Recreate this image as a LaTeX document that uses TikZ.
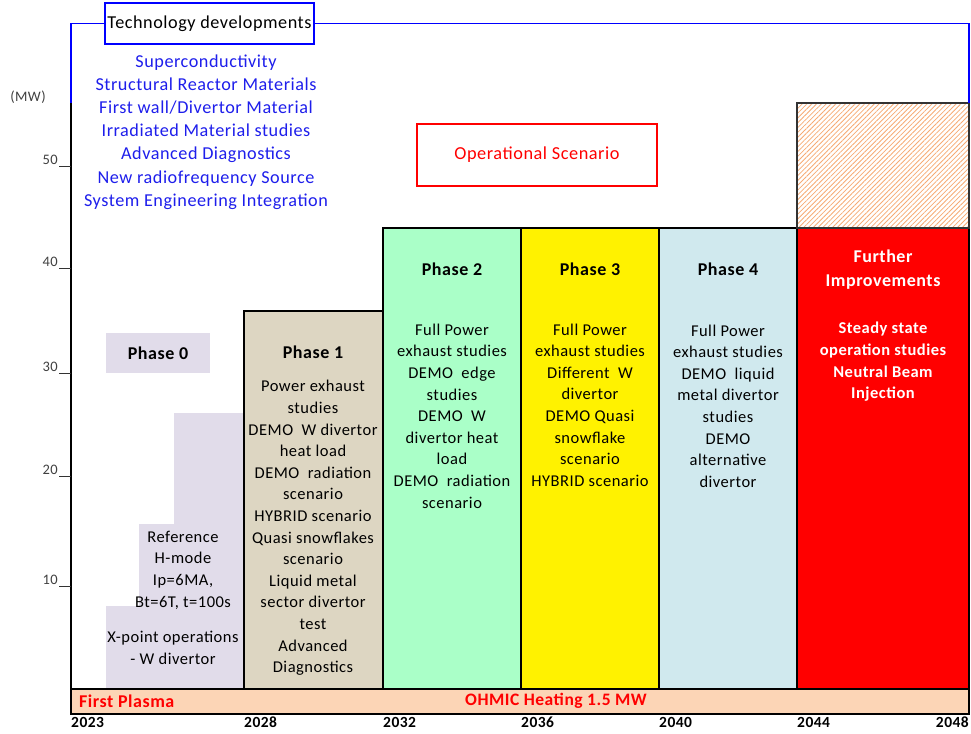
\documentclass[tikz,border=0pt]{standalone}
\usepackage{fontspec}
\setmainfont{Carlito}[LetterSpace=3]
\usetikzlibrary{patterns.meta}
\definecolor{lav}{RGB}{225,220,234}
\definecolor{beige}{RGB}{221,214,194}
\definecolor{mint}{RGB}{170,255,200}
\definecolor{lblue}{RGB}{208,233,238}
\definecolor{peach}{RGB}{252,213,182}
\definecolor{hatch}{RGB}{246,170,115}
\definecolor{tblue}{RGB}{30,30,235}
\begin{document}
\begin{tikzpicture}[x=1pt,y=-1pt,
  bar/.style={draw=black,line width=2pt},
  txt/.style={font=\fontsize{16.5}{21.6}\selectfont,align=center,inner sep=0pt},
  phs/.style={font=\fontsize{18}{24}\selectfont\bfseries,inner sep=0pt},
  yr/.style={font=\fontsize{15.5}{17}\selectfont\bfseries,inner sep=0pt,anchor=north west},
  ticklab/.style={font=\fontsize{14.5}{16}\selectfont,text=black!75,anchor=south east,inner sep=1pt}]
\useasboundingbox (0,0) rectangle (971,733);
% Phase 0 staircase
\fill[lav] (106,689) -- (106,606) -- (139,606) -- (139,524) -- (174,524) -- (174,413) -- (244,413) -- (244,689) -- cycle;
\fill[lav] (106,333) rectangle (210,373);
% bars
\draw[bar,fill=beige] (244,311) rectangle (383,689);
\draw[bar,fill=mint] (383,228) rectangle (521,689);
\draw[bar,fill=yellow] (521,228) rectangle (659,689);
\draw[bar,fill=lblue] (659,228) rectangle (797,689);
\draw[bar,fill=red] (797,228) rectangle (969,689);
\draw[bar,draw=black!80,pattern={Lines[angle=45,distance=3.4pt,line width=0.8pt]},pattern color=hatch] (797,103) rectangle (969,228);
% bottom strip
\draw[line width=1.8pt,fill=peach] (71,689) rectangle (969,714);
% axis
\draw[line width=2pt] (71,103) -- (71,715);
\foreach \yy/\lab in {166/50,268/40,373/30,476/20,586/10}{
  \draw[line width=1pt,black!80] (59,\yy) -- (71,\yy);
  \node[ticklab] at (59,\yy) {\lab};
}
\node[font=\fontsize{14.5}{16}\selectfont,text=black!75] (mw) at (28,97) {(MW)};
% technology frame
\node[draw=blue,line width=1.8pt,minimum width=209pt,minimum height=41pt,inner sep=0pt,font=\fontsize{18.2}{20}\selectfont] (tech) at (209.5,23.5) {Technology developments};
\draw[blue,line width=1.8pt] (71,103) -- (71,23.5) -- (tech.west);
\draw[blue,line width=1.8pt] (tech.east) -- (969,23.5) -- (969,103);
\node[txt,font=\fontsize{18.2}{23.2}\selectfont,text=tblue] (techlist) at (206,132) {Superconductivity\\Structural Reactor Materials\\First wall/Divertor Material\\Irradiated Material studies\\Advanced Diagnostics\\New radiofrequency Source\\System Engineering Integration};
% operational scenario
\node[draw=red,line width=1.5pt,minimum width=240pt,minimum height=62pt,inner sep=0pt,text=red,font=\fontsize{18.3}{20}\selectfont] (ops) at (537,155) {Operational Scenario};
% phase labels
\node[phs] (ph0) at (158,353) {Phase 0};
\node[phs] (ph1) at (313,352) {Phase 1};
\node[phs] (ph2) at (452,269) {Phase 2};
\node[phs] (ph3) at (590,269) {Phase 3};
\node[phs] (ph4) at (728,269) {Phase 4};
\node[phs,text=white,align=center] (ph5) at (883,270) {Further\\Improvements};
% phase texts
\node[txt] (t0a) at (183,570) {Reference\\H-mode\\Ip=6MA,\\Bt=6T, t=100s};
\node[txt] (t0b) at (173,648) {X-point operations\\- W divertor};
\node[txt] (t1) at (313,528) {Power exhaust\\studies\\DEMO\ \ W divertor\\heat load\\DEMO\ \ radiation\\scenario\\HYBRID scenario\\Quasi snowflakes\\scenario\\Liquid metal\\sector divertor\\test\\Advanced\\Diagnostics};
\node[txt] (t2) at (452,416) {Full Power\\exhaust studies\\DEMO\ \ edge\\studies\\DEMO\ \ W\\divertor heat\\load\\DEMO\ \ radiation\\scenario};
\node[txt] (t3) at (590,405) {Full Power\\exhaust studies\\Different\ \ W\\divertor\\DEMO Quasi\\snowflake\\scenario\\HYBRID scenario};
\node[txt] (t4) at (728,406) {Full Power\\exhaust studies\\DEMO\ \ liquid\\metal divertor\\studies\\DEMO\\alternative\\divertor};
\node[txt,text=white,font=\fontsize{16.5}{21.6}\selectfont\bfseries] (t5) at (883,362) {Steady state\\operation studies\\Neutral Beam\\Injection};
% strip texts
\node[font=\fontsize{18}{19}\selectfont\bfseries,text=red,anchor=west,inner sep=0pt] (fp) at (79,701) {First Plasma};
\node[font=\fontsize{17.5}{19}\selectfont\bfseries,text=red,inner sep=0pt] (oh) at (556,701) {OHMIC Heating 1.5 MW};
% years
\node[yr] (y23) at (71,717) {2023};
\node[yr] (y28) at (244,717) {2028};
\node[yr] (y32) at (383,717) {2032};
\node[yr] (y36) at (521,717) {2036};
\node[yr] (y40) at (659,717) {2040};
\node[yr] (y44) at (797,717) {2044};
\node[yr,anchor=north east] (y48) at (969,717) {2048};
\end{tikzpicture}
\end{document}
